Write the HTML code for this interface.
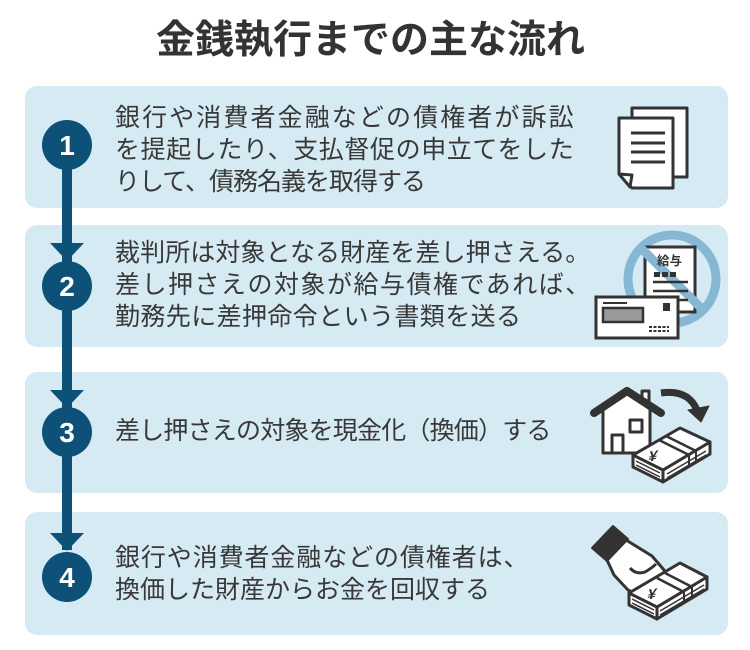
<!DOCTYPE html>
<html><head><meta charset="utf-8"><style>
html,body{margin:0;padding:0;background:#fff;}
#c{position:relative;width:750px;height:650px;overflow:hidden;background:#fff;}
svg{position:absolute;left:0;top:0;}
.t{position:absolute;left:115px;white-space:nowrap;font-family:"Liberation Sans","Noto Sans CJK JP",sans-serif;font-size:25px;line-height:32px;color:#383838;}
.ttl{position:absolute;left:156px;top:16px;white-space:nowrap;font-family:"Liberation Sans","Noto Sans CJK JP",sans-serif;font-weight:bold;font-size:39px;line-height:50px;color:#333;}
</style></head><body><div id="c">
<svg width="750" height="650" viewBox="0 0 750 650">
<!-- boxes -->
<rect x="25" y="86" width="703" height="122" rx="12" fill="#d6eaf4"/>
<rect x="25" y="225" width="703" height="122" rx="12" fill="#d6eaf4"/>
<rect x="25" y="372" width="703" height="121" rx="12" fill="#d6eaf4"/>
<rect x="25" y="512" width="703" height="123" rx="12" fill="#d6eaf4"/>
<!-- flow line -->
<rect x="62" y="145" width="10" height="405" fill="#0d5078"/>
<polygon points="50,243 84,243 67,261" fill="#0d5078"/>
<polygon points="50,390 84,390 67,408" fill="#0d5078"/>
<polygon points="50,533 84,533 67,551" fill="#0d5078"/>
<circle cx="67" cy="145" r="25" fill="#0d5078"/>
<circle cx="67" cy="286" r="25" fill="#0d5078"/>
<circle cx="67" cy="432" r="25" fill="#0d5078"/>
<circle cx="67" cy="577" r="25" fill="#0d5078"/>
<g font-family="Liberation Sans, sans-serif" font-weight="bold" font-size="28" fill="#fff" text-anchor="middle">
<text x="67" y="155">1</text>
<text x="67" y="296">2</text>
<text x="67" y="442">3</text>
<text x="67" y="587">4</text>
</g>

<!-- icon 1: documents -->
<g stroke="#333" stroke-width="3" fill="#fff" stroke-linejoin="round">
<rect x="632" y="108" width="55" height="69"/>
<path d="M619,118 H673 V188 H632 L619,174 Z"/>
<path d="M619,174 L632,175 L630,187 Z"/>
<path d="M631,133 H665 M631,143 H665 M631,152 H665 M631,162 H665" fill="none"/>
</g>

<!-- icon 2: prohibited salary -->
<circle cx="672" cy="279" r="44" fill="none" stroke="#86b7d3" stroke-width="9"/>
<rect x="645" y="247" width="50" height="65" fill="#fff" stroke="#333" stroke-width="3"/>
<line x1="641" y1="248" x2="703" y2="310" stroke="#86b7d3" stroke-width="9"/>
<text x="657" y="265" font-family="Liberation Sans, Noto Sans CJK JP, sans-serif" font-weight="bold" font-size="12.5" fill="#333">給与</text>
<rect x="654" y="272" width="6" height="5" fill="#333"/>
<rect x="662" y="272" width="6" height="5" fill="#333"/>
<rect x="670" y="272" width="6" height="5" fill="#333"/>
<path d="M653,282 H688 M653,291 H688 M653,300 H688" stroke="#333" stroke-width="2.5"/>
<rect x="596" y="297" width="82" height="41" fill="#fff" stroke="#333" stroke-width="3"/>
<rect x="603" y="308" width="40" height="14" fill="#9a9a9a" stroke="#333" stroke-width="2.5"/>
<line x1="603" y1="303" x2="627" y2="303" stroke="#333" stroke-width="2"/>
<rect x="663" y="303" width="7" height="8" fill="#333"/>
<path d="M649,327 H669 M649,331 H669" stroke="#333" stroke-width="2" stroke-dasharray="3,1.5"/>

<!-- icon 3: house to money -->
<g stroke="#333" stroke-linejoin="round">
<rect x="642" y="391" width="7" height="12" fill="#fff" stroke-width="3"/>
<polygon points="603,409 627,393 650,409 650,453 603,453" fill="#fff" stroke-width="3"/>
<polyline points="594,413 627,391 661,413" fill="none" stroke-width="8" stroke-linecap="round"/>
<rect x="630" y="420" width="12" height="12" fill="#fff" stroke-width="3"/>
<rect x="612" y="435" width="11" height="18" fill="#fff" stroke-width="3"/>
<path d="M661,393 Q688,389 697,410" fill="none" stroke-width="7"/>
<polygon points="688,410 709,406 701,422" fill="#333" stroke-width="1"/>
<!-- money stack -->
<polygon points="633,455 663,470 663,482 633,467" fill="#fff" stroke-width="3"/>
<polygon points="663,470 710,442 710,454 663,482" fill="#fff" stroke-width="3"/>
<polygon points="633,455 680,428 710,442 663,470" fill="#fff" stroke-width="3"/>
<path d="M659,440 L689,455 M666,436 L696,451" fill="none" stroke-width="2.5"/>
<path d="M689,455 V467 M696,451 V463" fill="none" stroke-width="2"/>
<path d="M636,461 L660,473 M636,465 L660,477 M667,474 L706,451 M667,478 L706,455" fill="none" stroke-width="1.5"/>
</g>
<text x="0" y="0" text-anchor="middle" font-family="Liberation Sans, sans-serif" font-weight="bold" font-size="15" fill="#333" transform="translate(652,461) skewX(-20) rotate(-8)">¥</text>

<!-- icon 4: hand with money -->
<g stroke="#333" stroke-linejoin="round">
<path d="M626,540 L652,556 L664,570 L668,585 L640,596 L628,590 L614,575 L607,560 Z" fill="#fff" stroke-width="3"/>
<polygon points="629,593 657,607 657,619 629,605" fill="#fff" stroke-width="3"/>
<polygon points="657,607 707,577 707,589 657,619" fill="#fff" stroke-width="3"/>
<polygon points="629,593 680,563 707,577 657,607" fill="#fff" stroke-width="3"/>
<path d="M657,578 L684,592 M665,573 L692,587" fill="none" stroke-width="2.5"/>
<path d="M684,592 V604 M692,587 V599" fill="none" stroke-width="2"/>
<path d="M632,599 L654,610 M632,603 L654,614 M660,611 L704,585 M660,615 L704,589" fill="none" stroke-width="1.5"/>
<path d="M630,568 Q636,575 645,572 Q652,568 656,564" fill="none" stroke-width="3"/>
<polygon points="592,548 613,526 628,539 607,561" fill="#333" stroke-width="2"/>
</g>
<text x="0" y="0" text-anchor="middle" font-family="Liberation Sans, sans-serif" font-weight="bold" font-size="15" fill="#333" transform="translate(651,599) skewX(-20) rotate(-8)">¥</text>
</svg>

<div class="ttl">金銭執行までの主な流れ</div>

<div class="t" style="top:102px;letter-spacing:2.1px">銀行や消費者金融などの債権者が訴訟</div>
<div class="t" style="top:134px;letter-spacing:0.6px">を提起したり、支払督促の申立てをした</div>
<div class="t" style="top:166px;letter-spacing:-1px">りして、債務名義を取得する</div>

<div class="t" style="top:237px;letter-spacing:0.1px">裁判所は対象となる財産を差し押さえる。</div>
<div class="t" style="top:269px;letter-spacing:1.5px">差し押さえの対象が給与債権であれば、</div>
<div class="t" style="top:301px;letter-spacing:0.4px">勤務先に差押命令という書類を送る</div>

<div class="t" style="top:415px;letter-spacing:-0.8px">差し押さえの対象を現金化（換価）する</div>

<div class="t" style="top:542px;letter-spacing:0.9px">銀行や消費者金融などの債権者は、</div>
<div class="t" style="top:574px;letter-spacing:0px">換価した財産からお金を回収する</div>
</div></body></html>
